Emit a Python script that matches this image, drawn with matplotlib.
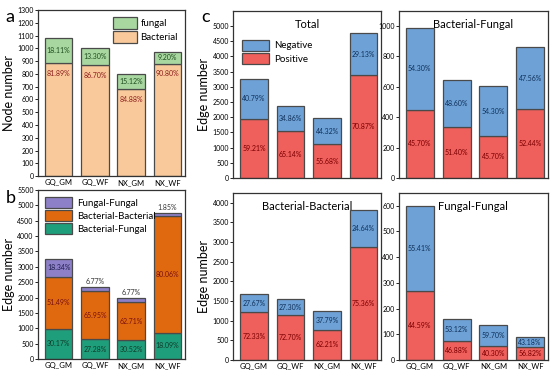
import numpy as np
import matplotlib
matplotlib.use("Agg")
import matplotlib.pyplot as plt

plt.rcParams["font.family"] = ["Lato", "DejaVu Sans"]

groups = ["GQ_GM", "GQ_WF", "NX_GM", "NX_WF"]

# panel a: node numbers
node_bact = [884, 867, 679, 881]
node_fung = [196, 133, 121, 89]
node_bact_lab = ["81.89%", "86.70%", "84.88%", "90.80%"]
node_fung_lab = ["18.11%", "13.30%", "15.12%", "9.20%"]

# panel b: edge numbers by type
edge_bf = [987, 645, 605, 860]
edge_bb = [1684, 1555, 1240, 3810]
edge_ff = [600, 160, 135, 88]
edge_bf_lab = ["30.17%", "27.28%", "30.52%", "18.09%"]
edge_bb_lab = ["51.49%", "65.95%", "62.71%", "80.06%"]
edge_ff_lab = ["18.34%", "6.77%", "6.77%", "1.85%"]

# panel c: positive / negative edges
total_pos = [1936, 1537, 1102, 3372]
total_neg = [1334, 823, 878, 1386]
total_pos_lab = ["59.21%", "65.14%", "55.68%", "70.87%"]
total_neg_lab = ["40.79%", "34.86%", "44.32%", "29.13%"]

bf_pos = [450, 332, 276, 451]
bf_neg = [535, 313, 329, 409]
bf_pos_lab = ["45.70%", "51.40%", "45.70%", "52.44%"]
bf_neg_lab = ["54.30%", "48.60%", "54.30%", "47.56%"]

bb_pos = [1215, 1131, 771, 2871]
bb_neg = [465, 424, 469, 939]
bb_pos_lab = ["72.33%", "72.70%", "62.21%", "75.36%"]
bb_neg_lab = ["27.67%", "27.30%", "37.79%", "24.64%"]

ff_pos = [268, 75, 54, 50]
ff_neg = [332, 85, 81, 38]
ff_pos_lab = ["44.59%", "46.88%", "40.30%", "56.82%"]
ff_neg_lab = ["55.41%", "53.12%", "59.70%", "43.18%"]

EDGE = "#4a4a4a"
W = 0.76
x = np.arange(len(groups))

fig = plt.figure(figsize=(5.5, 3.73), dpi=100)


def style(ax, ylim, step):
    ax.set_xlim(-0.57, 3.48)
    ax.set_ylim(0, ylim)
    ax.set_yticks(np.arange(0, ylim + 1, step))
    ax.set_xticks(x)
    ax.set_xticklabels(groups, fontsize=5.5)
    ax.tick_params(axis="x", length=0, pad=2)
    ax.tick_params(axis="y", labelsize=5, length=2, width=0.6, pad=1)
    for s in ax.spines.values():
        s.set_linewidth(0.9)
        s.set_color("#333333")


def stack(ax, bottoms, vals, color, labs, tcolor, fs=5):
    bars = ax.bar(x, vals, W, bottom=bottoms, color=color, edgecolor=EDGE, linewidth=0.9)
    for xi, b, v, l in zip(x, bottoms, vals, labs):
        ax.text(xi, b + v / 2, l, ha="center", va="center", fontsize=fs, color=tcolor)
    return bars


# ---- panel a
ax = fig.add_axes([0.069, 0.528, 0.267, 0.445])
style(ax, 1300, 100)
z = [0] * 4
hb = ax.bar(x, node_bact, W, color="#f9c99b", edgecolor=EDGE, linewidth=0.9)
hf = ax.bar(x, node_fung, W, bottom=node_bact, color="#a8d7a0", edgecolor=EDGE, linewidth=0.9)
for xi, b, f, lb, lf in zip(x, node_bact, node_fung, node_bact_lab, node_fung_lab):
    ax.text(xi, b - 80, lb, ha="center", va="center", fontsize=5, color="#8b1a1a")
    ax.text(xi, b + f / 2, lf, ha="center", va="center", fontsize=5, color="#1f4d1f")
ax.set_ylabel("Node number", fontsize=9, labelpad=2)
ax.legend([hf, hb], ["fungal", "Bacterial"], loc="upper right", fontsize=7,
          frameon=False, handlelength=2.4, handleheight=1.5, borderaxespad=0.3,
          labelspacing=0.2, handletextpad=0.4)
fig.text(0.01, 0.975, "a", fontsize=13, va="top")

# ---- panel b
ax = fig.add_axes([0.069, 0.0375, 0.267, 0.453])
style(ax, 5500, 500)
b2 = [a + b for a, b in zip(edge_bf, edge_bb)]
h1 = stack(ax, z, edge_bf, "#1f9e7b", edge_bf_lab, "#0f3d2a")
h2 = stack(ax, edge_bf, edge_bb, "#e0690f", edge_bb_lab, "#7a1010")
h3 = ax.bar(x, edge_ff, W, bottom=b2, color="#8e80c8", edgecolor=EDGE, linewidth=0.9)
for xi, b, v, l in zip(x, b2, edge_ff, edge_ff_lab):
    if v > 300:
        ax.text(xi, b + v / 2, l, ha="center", va="center", fontsize=5, color="#1c1c4a")
    else:
        ax.text(xi, b + v + 60, l, ha="center", va="bottom", fontsize=5, color="#333333")
ax.set_ylabel("Edge number", fontsize=9, labelpad=2)
ax.legend([h3, h2, h1], ["Fungal-Fungal", "Bacterial-Bacterial", "Bacterial-Fungal"],
          loc="upper left", fontsize=7, frameon=False, handlelength=2.8,
          handleheight=1.4, borderaxespad=0.3, labelspacing=0.2, handletextpad=0.5)
fig.text(0.01, 0.49, "b", fontsize=13, va="top")

# ---- panel c
panels = [
    ([0.424, 0.523, 0.269, 0.448], "Total", total_pos, total_neg, total_pos_lab, total_neg_lab, 5500, 500, True),
    ([0.725, 0.523, 0.271, 0.448], "Bacterial-Fungal", bf_pos, bf_neg, bf_pos_lab, bf_neg_lab, 1100, 200, False),
    ([0.424, 0.035, 0.269, 0.448], "Bacterial-Bacterial", bb_pos, bb_neg, bb_pos_lab, bb_neg_lab, 4250, 500, True),
    ([0.725, 0.035, 0.271, 0.448], "Fungal-Fungal", ff_pos, ff_neg, ff_pos_lab, ff_neg_lab, 650, 100, False),
]
for rect, title, pos, neg, plab, nlab, ylim, step, ylab in panels:
    ax = fig.add_axes(rect)
    style(ax, ylim, step)
    ax.set_yticks(np.arange(0, ylim + 1 - step * 0.5, step))
    hp = stack(ax, z, pos, "#ef5f5c", plab, "#7a0000")
    hn = stack(ax, pos, neg, "#6ea2d6", nlab, "#10305a")
    ax.text(0.5, 0.92, title, transform=ax.transAxes, ha="center", va="center", fontsize=8)
    if ylab:
        ax.set_ylabel("Edge number", fontsize=9, labelpad=2)
    if title == "Total":
        ax.legend([hn, hp], ["Negative", "Positive"], loc="upper left",
                  bbox_to_anchor=(0.0, 0.88), fontsize=7, frameon=False,
                  handlelength=2.8, handleheight=1.4, labelspacing=0.2,
                  handletextpad=0.5)
    if title in ("Total", "Bacterial-Fungal"):
        ax.set_xticklabels([])
fig.text(0.365, 0.975, "c", fontsize=13, va="top")

fig.savefig("out.png", dpi=100)
